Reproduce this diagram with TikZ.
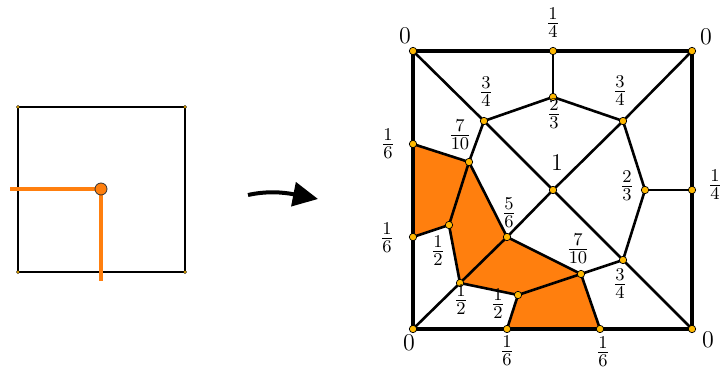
\documentclass[tikz,border=0pt]{standalone}
\usetikzlibrary{arrows.meta}
\definecolor{fillor}{RGB}{255,127,14}
\definecolor{dotor}{RGB}{255,184,0}
\begin{document}
\begin{tikzpicture}[x=0.5pt,y=-0.5pt,
  outer/.style={line width=1.65pt},
  edge/.style={line width=1.3pt},
  vdot/.style={circle,fill=dotor,draw=black,line width=0.35pt,inner sep=0pt,minimum size=3.7pt},
  sdot/.style={circle,fill=dotor,draw=black,line width=0.2pt,inner sep=0pt,minimum size=1.6pt},
  lab/.style={inner sep=0pt,font=\fontsize{13}{15}\selectfont},
  flab/.style={inner sep=0pt,font=\fontsize{13}{15}\selectfont},
  region/.style={fill=fillor,draw=none}]
\useasboundingbox (0,0) rectangle (723,369);
% ---------- left diagram ----------
\coordinate (la) at (18,107);
\coordinate (lb) at (185,107);
\coordinate (lc) at (185,272);
\coordinate (ld) at (18,272);
\coordinate (lw) at (10,189);
\coordinate (ls) at (101,281);
\draw[line width=0.65pt] (la) -- (lb) -- (lc) -- (ld) -- cycle;
\foreach \p in {la,lb,lc,ld} \node[sdot] (s\p) at (\p) {};
\coordinate (lm) at (101,189);
\draw[fillor,line width=2pt] (lw) -- (lm) -- (ls);
\node[circle,fill=fillor,draw=black!80,line width=0.4pt,inner sep=0pt,minimum size=6pt] (lmd) at (lm) {};
% ---------- arrow ----------
\coordinate (arA) at (248,195);
\coordinate (arB) at (318,199);
\draw[line width=2pt,-{Triangle[length=12.5pt,width=12pt]}] (arA) .. controls (266,191) and (282,192) .. (arB);
% ---------- right diagram vertices ----------
\coordinate (TL) at (413,51);
\coordinate (TR) at (692,51);
\coordinate (BL) at (413,329);
\coordinate (BR) at (692,329);
\coordinate (T)  at (553,51);
\coordinate (T2) at (553,97);
\coordinate (UL) at (484,121);
\coordinate (UR) at (623,121);
\coordinate (C)  at (553,190);
\coordinate (R)  at (692,190);
\coordinate (R2) at (645,190);
\coordinate (A)  at (469,162);
\coordinate (L1) at (413,144);
\coordinate (L2) at (413,237);
\coordinate (B1) at (449,225);
\coordinate (F)  at (507,237);
\coordinate (H)  at (460,283);
\coordinate (J)  at (518,295);
\coordinate (S)  at (581,274);
\coordinate (LR) at (623,260);
\coordinate (D1) at (507,329);
\coordinate (D2) at (600,329);
% orange regions
\fill[region] (L1) -- (A) -- (B1) -- (L2) -- cycle;
\fill[region] (A) -- (F) -- (H) -- (B1) -- cycle;
\fill[region] (F) -- (S) -- (J) -- (H) -- cycle;
\fill[region] (J) -- (S) -- (D2) -- (D1) -- cycle;
% edges
\draw[edge] (TL) -- (UL) -- (C);
\draw[edge] (TR) -- (UR) -- (C);
\draw[edge] (C) -- (LR) -- (BR);
\draw[edge] (C) -- (F) -- (H) -- (BL);
\draw[edge] (T) -- (T2);
\draw[edge] (UL) -- (T2) -- (UR);
\draw[edge] (R) -- (R2);
\draw[edge] (UR) -- (R2) -- (LR);
\draw[edge] (UL) -- (A);
\draw[edge] (A) -- (L1);
\draw[edge] (A) -- (B1);
\draw[edge] (A) -- (F);
\draw[edge] (B1) -- (L2);
\draw[edge] (B1) -- (H);
\draw[edge] (F) -- (S);
\draw[edge] (H) -- (J);
\draw[edge] (J) -- (S);
\draw[edge] (J) -- (D1);
\draw[edge] (S) -- (LR);
\draw[edge] (S) -- (D2);
\draw[outer] (TL) -- (TR) -- (BR) -- (BL) -- cycle;
% dots
\foreach \p in {TL,TR,BL,BR,T,T2,UL,UR,C,R,R2,A,L1,L2,B1,F,H,J,S,LR,D1,D2}
  \node[vdot] (d\p) at (\p) {};
% labels
\node[lab] (nTL) at (405,36) {$0$};
\node[lab] (nTR) at (706,37) {$0$};
\node[lab] (nBL) at (409,343) {$0$};
\node[lab] (nBR) at (708,340) {$0$};
\node[lab] (nC) at (557,163) {$1$};
\node[flab] (nT) at (553,23) {$\frac{1}{4}$};
\node[flab] (nT2) at (554,114) {$\frac{2}{3}$};
\node[flab] (nUL) at (486,92) {$\frac{3}{4}$};
\node[flab] (nUR) at (620,91) {$\frac{3}{4}$};
\node[flab] (nA) at (460,135) {$\frac{7}{10}$};
\node[flab] (nL1) at (388,144) {$\frac{1}{6}$};
\node[flab] (nR2) at (627,186) {$\frac{2}{3}$};
\node[flab] (nR) at (715,185) {$\frac{1}{4}$};
\node[flab] (nL2) at (387,238) {$\frac{1}{6}$};
\node[flab] (nB1) at (438,251) {$\frac{1}{2}$};
\node[flab] (nF) at (509,213) {$\frac{5}{6}$};
\node[flab] (nS) at (578,249) {$\frac{7}{10}$};
\node[flab] (nLR) at (620,284) {$\frac{3}{4}$};
\node[flab] (nH) at (461,300) {$\frac{1}{2}$};
\node[flab] (nJ) at (498,304) {$\frac{1}{2}$};
\node[flab] (nD1) at (507,351) {$\frac{1}{6}$};
\node[flab] (nD2) at (603,352) {$\frac{1}{6}$};
\end{tikzpicture}
\end{document}
